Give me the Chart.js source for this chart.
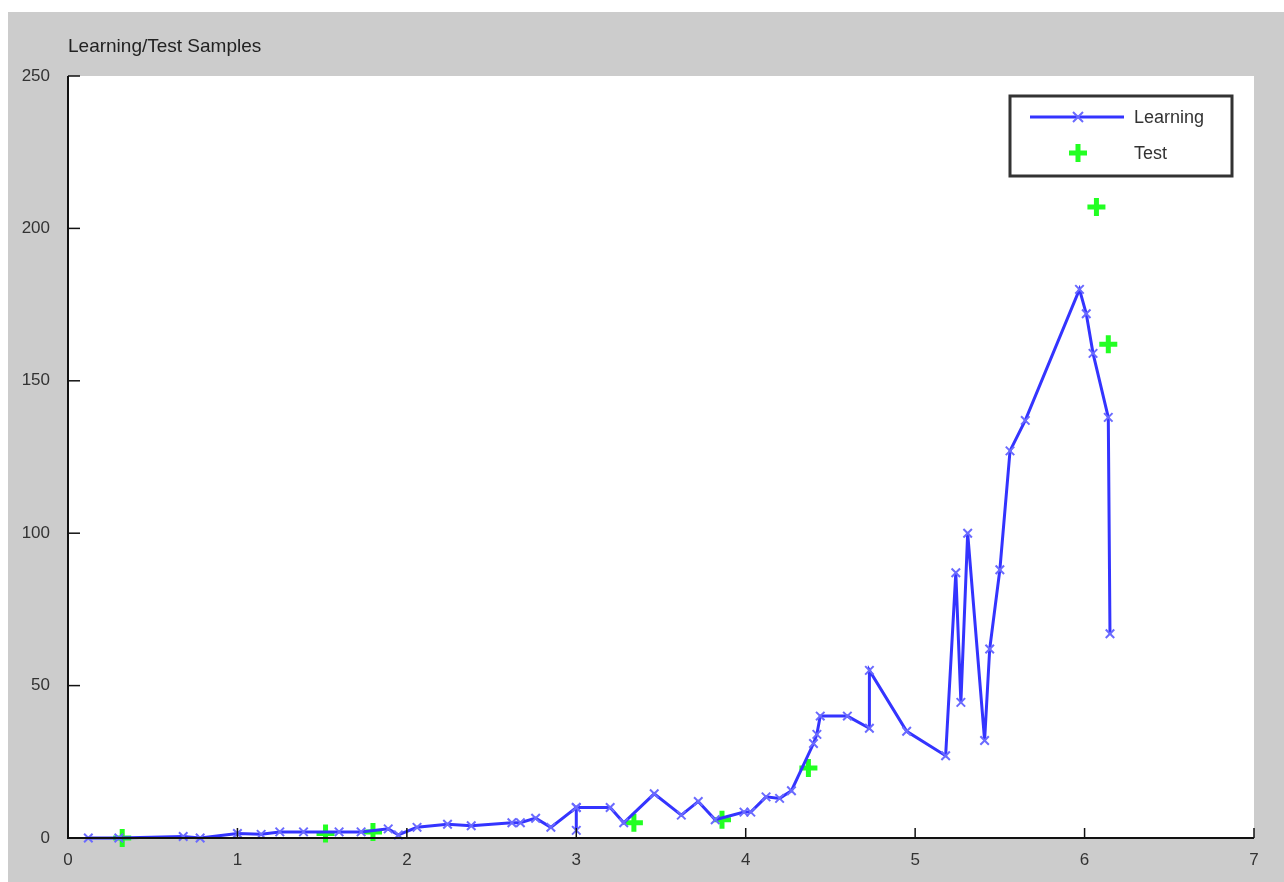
<!DOCTYPE html>
<html>
<head>
<meta charset="utf-8">
<script src="https://cdn.jsdelivr.net/npm/chart.js@4"></script>
<style>
  body { margin: 0; background: #fff; }
  #frame { position: absolute; left: 8px; top: 12px; width: 1276px; height: 870px; background: #cccccc; }
  #title { position: absolute; left: 60px; top: 23px; font: 19px "Liberation Sans", Arial, sans-serif; color: #222; }
  canvas { position: absolute; left: 0; top: 0; }
</style>
</head>
<body>
<div id="frame">
  <canvas id="chart" width="1276" height="870"></canvas>
  <div id="title">Learning/Test Samples</div>
</div>
<script>
// values
const learnX = [0.12, 0.3, 0.68, 0.78, 1.0, 1.14, 1.25, 1.39, 1.6, 1.73, 1.89, 1.95, 2.06, 2.24, 2.38, 2.62, 2.67, 2.76, 2.85,
  3.0, 3.0, 3.0, 3.2, 3.28, 3.46, 3.62, 3.72, 3.82, 3.99, 4.03, 4.12, 4.2, 4.27, 4.4, 4.42, 4.44, 4.6, 4.73, 4.73,
  4.95, 5.18, 5.24, 5.27, 5.31, 5.41, 5.44, 5.5, 5.56, 5.65, 5.97, 6.01, 6.05, 6.14, 6.15];
const learnY = [0, 0, 0.5, 0, 1.5, 1.2, 2, 2, 2, 2, 3, 1, 3.5, 4.5, 4, 5, 5, 6.5, 3.5,
  10, 2.5, 10, 10, 5, 14.5, 7.5, 12, 6, 8.5, 8.5, 13.5, 13, 15.5, 31, 34, 40, 40, 36, 55,
  35, 27, 87, 44.5, 100, 32, 62, 88, 127, 137, 180, 172, 159, 138, 67];
const testX = [0.32, 1.52, 1.8, 3.34, 3.86, 4.37, 6.07, 6.14];
const testY = [0, 1.5, 2, 5, 6, 23, 207, 162];
const xTicks = [0, 1, 2, 3, 4, 5, 6, 7];
const yTicks = [0, 50, 100, 150, 200, 250];

const font = { family: '"Liberation Sans", Arial, sans-serif', size: 17 };

const plotBox = {
  id: 'plotBox',
  beforeDraw(chart) {
    const { ctx, chartArea: a } = chart;
    ctx.save();
    ctx.fillStyle = '#ffffff';
    ctx.fillRect(a.left, a.top, a.right - a.left, a.bottom - a.top);
    ctx.restore();
  },
  afterDraw(chart) {
    const { ctx, chartArea: a, scales } = chart;
    ctx.save();
    // axis lines and inward ticks
    ctx.strokeStyle = '#111';
    ctx.lineWidth = 2;
    ctx.beginPath();
    ctx.moveTo(a.left, a.top); ctx.lineTo(a.left, a.bottom); ctx.lineTo(a.right, a.bottom);
    ctx.stroke();
    ctx.lineWidth = 1.5;
    xTicks.forEach(v => {
      const px = scales.x.getPixelForValue(v);
      ctx.beginPath(); ctx.moveTo(px, a.bottom); ctx.lineTo(px, a.bottom - 10); ctx.stroke();
    });
    yTicks.forEach(v => {
      const py = scales.y.getPixelForValue(v);
      ctx.beginPath(); ctx.moveTo(a.left, py); ctx.lineTo(a.left + 12, py); ctx.stroke();
    });

    // legend box
    const lx = 1002, ly = 84, lw = 222, lh = 80;
    ctx.fillStyle = '#fff';
    ctx.fillRect(lx, ly, lw, lh);
    ctx.strokeStyle = '#333';
    ctx.lineWidth = 3;
    ctx.strokeRect(lx, ly, lw, lh);
    const ds = chart.data.datasets;
    // Learning
    ctx.strokeStyle = ds[0].borderColor;
    ctx.lineWidth = 3;
    ctx.beginPath(); ctx.moveTo(lx + 20, ly + 21); ctx.lineTo(lx + 114, ly + 21); ctx.stroke();
    ctx.strokeStyle = ds[0].pointBorderColor;
    ctx.lineWidth = 2;
    ctx.beginPath();
    ctx.moveTo(lx + 63, ly + 16); ctx.lineTo(lx + 73, ly + 26);
    ctx.moveTo(lx + 73, ly + 16); ctx.lineTo(lx + 63, ly + 26);
    ctx.stroke();
    // Test
    ctx.strokeStyle = ds[1].pointBorderColor;
    ctx.lineWidth = 5;
    ctx.beginPath();
    ctx.moveTo(lx + 68, ly + 48); ctx.lineTo(lx + 68, ly + 66);
    ctx.moveTo(lx + 59, ly + 57); ctx.lineTo(lx + 77, ly + 57);
    ctx.stroke();
    ctx.fillStyle = '#333';
    ctx.font = '18px "Liberation Sans", Arial, sans-serif';
    ctx.textBaseline = 'middle';
    ctx.fillText(ds[0].label, lx + 124, ly + 22);
    ctx.fillText(ds[1].label, lx + 124, ly + 58);
    ctx.restore();
  }
};

new Chart(document.getElementById('chart'), {
  type: 'line',
  data: {
    datasets: [{
      label: 'Learning',
      data: learnX.map((x, i) => ({ x: x, y: learnY[i] })),
      borderColor: '#3434ff',
      borderWidth: 3,
      pointStyle: 'crossRot',
      pointRadius: 6,
      pointBorderWidth: 2,
      pointBorderColor: '#6a6aff',
      tension: 0,
      clip: false
    }, {
      label: 'Test',
      data: testX.map((x, i) => ({ x: x, y: testY[i] })),
      showLine: false,
      pointStyle: 'cross',
      pointRadius: 9,
      pointBorderWidth: 5,
      pointBorderColor: '#22ff22',
      borderColor: '#22ff22',
      clip: false
    }]
  },
  options: {
    responsive: false,
    animation: false,
    layout: { padding: { top: 64, right: 30, left: 0, bottom: 0 } },
    plugins: { legend: { display: false }, tooltip: { enabled: false } },
    scales: {
      x: {
        type: 'linear', min: 0, max: 7,
        afterFit: s => { s.height = 44; },
        afterBuildTicks: s => { s.ticks = xTicks.map(v => ({ value: v })); },
        grid: { display: false },
        border: { display: false },
        ticks: { color: '#333', font: font, padding: 4, maxRotation: 0 }
      },
      y: {
        min: 0, max: 250,
        afterFit: s => { s.width = 60; },
        afterBuildTicks: s => { s.ticks = yTicks.map(v => ({ value: v })); },
        grid: { display: false },
        border: { display: false },
        ticks: { color: '#333', font: font, padding: 10 }
      }
    }
  },
  plugins: [plotBox]
});
</script>
</body>
</html>
